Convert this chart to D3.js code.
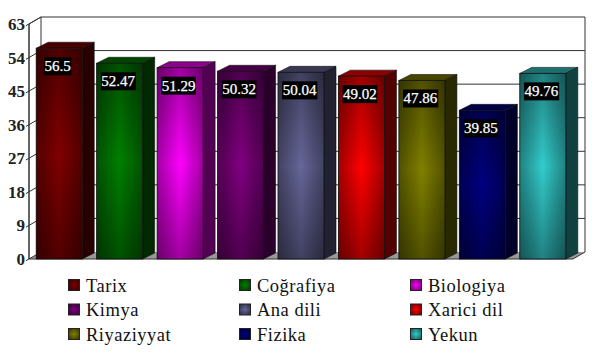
<!DOCTYPE html>
<html><head><meta charset="utf-8">
<style>html,body{margin:0;padding:0;background:#fff}svg{display:block}</style>
<script src="https://cdn.jsdelivr.net/npm/d3@7"></script></head>
<body><svg id="c" width="600" height="358"></svg>
<script>
const categories=["Tarix","Coğrafiya","Biologiya","Kimya","Ana dili","Xarici dil","Riyaziyyat","Fizika","Yekun"];
const values=[56.5,52.47,51.29,50.32,50.04,49.02,47.86,39.85,49.76];
const labels=["56.5","52.47","51.29","50.32","50.04","49.02","47.86","39.85","49.76"];
const colors=["#800000","#008000","#ff00ff","#800080","#666699","#ff0000","#808000","#000080","#33cccc"];
const yTicks=[0,9,18,27,36,45,54,63];

const svg=d3.select("#c");
const serif='"Liberation Serif","Times New Roman",serif';
const dx=12,dy=-7,bdx=12,bdy=-6;
const y=d3.scaleLinear().domain([0,63]).range([259,24]);
const x=d3.scaleBand().domain(categories).range([29,573]).paddingInner(0.2385).paddingOuter(0.119);
const line="#333";
const shade=(c,k)=>{const r=d3.rgb(c);return d3.rgb(r.r*k,r.g*k,r.b*k).formatHex();};
const defs=svg.append("defs");
const g1=defs.append("linearGradient").attr("id","v").attr("x1",0).attr("y1",0).attr("x2",0).attr("y2",1);
[[0,.36],[.5,0],[1,.36]].forEach(s=>g1.append("stop").attr("offset",s[0]).attr("stop-color","#000").attr("stop-opacity",s[1]));
const g2=defs.append("linearGradient").attr("id","h");
[[0,.36],[.5,0],[1,.36]].forEach(s=>g2.append("stop").attr("offset",s[0]).attr("stop-color","#000").attr("stop-opacity",s[1]));
const poly=p=>p.map(d=>d.join(",")).join(" ");

// walls and floor
const x0=29,x1=573,yb=y(0),yt=y(63);
svg.append("polygon").attr("points",poly([[x0,yb],[x0+dx,yb+dy],[x1+dx,yb+dy],[x1,yb]])).attr("fill","#999");
svg.append("polyline").attr("points",poly([[x0,yb],[x0,yt],[x0+dx,yt+dy],[x1+dx,yt+dy],[x1+dx,yb+dy],[x1,yb]]))
  .attr("fill","none").attr("stroke",line);
svg.append("line").attr("x1",x0+dx).attr("x2",x0+dx).attr("y1",yt+dy).attr("y2",yb+dy).attr("stroke",line);
// grid on the walls
const grid=svg.append("g");
yTicks.forEach(t=>{
  if(t>0&&t<63) grid.append("line").attr("x1",x0+dx).attr("x2",x1+dx).attr("y1",y(t)+dy).attr("y2",y(t)+dy).attr("stroke",line);
  grid.append("line").attr("x1",x0-3).attr("x2",x0+dx).attr("y1",y(t)+1.7).attr("y2",y(t)+dy).attr("stroke",line);
});
// y axis
const axis=svg.append("g").attr("transform",`translate(${x0},0)`)
  .call(d3.axisLeft(y).tickValues(yTicks).tickSize(0).tickPadding(4));
axis.select(".domain").attr("stroke",line).attr("d",`M0,${yb}V${yt}`);
axis.selectAll("text").attr("font-family",serif).attr("font-weight","bold").attr("font-size",17).attr("fill","#222");
svg.append("line").attr("x1",x0).attr("x2",x1).attr("y1",yb).attr("y2",yb).attr("stroke",line);

// bars
const w=x.bandwidth();
categories.forEach((c,i)=>{
  const l=x(c),t=y(values[i]),col=colors[i],g=svg.append("g");
  g.append("polygon").attr("points",poly([[l,t],[l+bdx,t+bdy],[l+w+bdx,t+bdy],[l+w,t]]))
    .attr("fill",shade(col,.55)).attr("stroke","#111").attr("stroke-width",.6);
  g.append("polygon").attr("points",poly([[l+w,t],[l+w+bdx,t+bdy],[l+w+bdx,yb+bdy],[l+w,yb]]))
    .attr("fill",shade(col,.32)).attr("stroke","#111").attr("stroke-width",.6);
  g.append("rect").attr("x",l).attr("y",t).attr("width",w).attr("height",yb-t).attr("fill",col);
  g.append("rect").attr("x",l).attr("y",t).attr("width",w).attr("height",yb-t).attr("fill","url(#v)");
  g.append("rect").attr("x",l).attr("y",t).attr("width",w).attr("height",yb-t).attr("fill","url(#h)");
  g.append("rect").attr("x",l).attr("y",t).attr("width",w).attr("height",yb-t).attr("fill","none").attr("stroke","#111").attr("stroke-width",.8);
  const txt=g.append("text").attr("x",l+w/2-1.5).attr("y",t+23).attr("text-anchor","middle")
    .attr("font-family",serif).attr("font-size",15).attr("fill","#fff")
    .attr("stroke","#fff").attr("stroke-width",.25).text(labels[i]);
  const bb=txt.node().getBBox();
  g.insert("rect","text").attr("x",bb.x-.5).attr("y",t+9).attr("width",bb.width+1).attr("height",18).attr("fill","#000");
});

// legend
const lx=[68,239,410],ly=[279,303.5,328];
categories.forEach((c,i)=>{
  const sx=lx[i%3],sy=ly[Math.floor(i/3)];
  [colors[i],"url(#v)","url(#h)"].forEach(f=>svg.append("rect").attr("x",sx+.5).attr("y",sy+.5).attr("width",11).attr("height",11).attr("fill",f));
  svg.append("rect").attr("x",sx+.5).attr("y",sy+.5).attr("width",11).attr("height",11).attr("fill","none").attr("stroke","#222");
  svg.append("text").attr("x",sx+18).attr("y",sy+12.5).attr("font-family",serif).attr("font-size",18.5).attr("letter-spacing",.5).attr("fill","#111").text(c);
});
</script></body></html>
